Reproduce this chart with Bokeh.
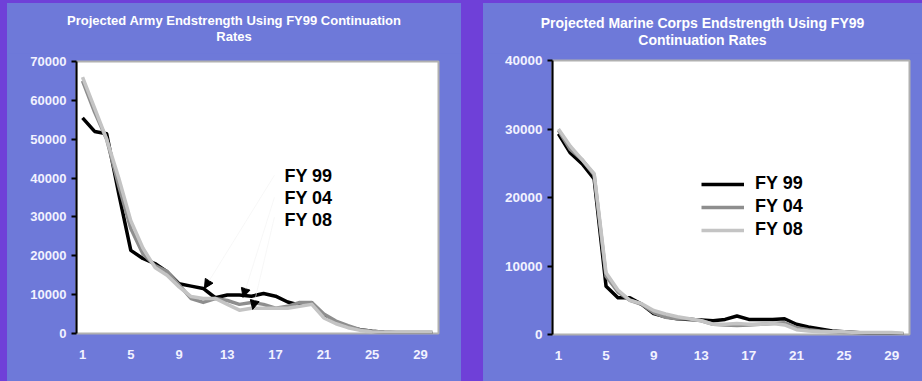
from bokeh.plotting import figure
from bokeh.models import (Range1d, FixedTicker, Label, Legend, LegendItem, Arrow,
                          NormalHead, ColumnDataSource, Div)
from bokeh.layouts import row, column
from bokeh.embed import file_html
from bokeh.resources import INLINE

# ---------------- data ----------------
years = list(range(1, 31))
x_ticks = [1, 5, 9, 13, 17, 21, 25, 29]

army_fy99 = [55500, 52000, 51400, 36000, 21400, 19300, 18000, 15900, 12800, 12200,
             11600, 9200, 9900, 9900, 9600, 10300, 9600, 8100, 7300, 7900,
             4300, 3000, 1700, 1000, 600, 300, 200, 200, 200, 0]
army_fy04 = [65000, 57000, 50000, 38000, 27000, 20500, 17500, 16000, 12500, 9000,
             8000, 9000, 8500, 7500, 8000, 7500, 6500, 7000, 8000, 8000,
             5000, 3200, 2000, 1000, 600, 300, 300, 300, 300, 300]
army_fy08 = [66000, 58000, 50000, 40000, 29000, 22000, 17000, 15000, 12000, 9500,
             9000, 9000, 7500, 6000, 6500, 6500, 6500, 6500, 7000, 7500,
             4000, 2500, 1500, 800, 400, 300, 300, 300, 300, 300]

marine_fy99 = [29300, 26500, 24900, 22700, 7050, 5350, 5350, 4400, 3050, 2600,
               2300, 2200, 2100, 2000, 2200, 2700, 2200, 2200, 2200, 2300,
               1500, 1100, 800, 500, 400, 300, 200, 150, 100, 0]
marine_fy04 = [29800, 27000, 25500, 23300, 8500, 6200, 5000, 4400, 3200, 2500,
               2300, 2300, 2000, 1500, 1400, 1300, 1400, 1500, 1600, 1700,
               1000, 700, 500, 400, 300, 250, 200, 200, 200, 100]
marine_fy08 = [30000, 27500, 25500, 23500, 9000, 6500, 5000, 4500, 3500, 3000,
               2600, 2300, 2000, 1500, 1500, 1600, 1500, 1500, 1600, 1400,
               700, 500, 400, 400, 400, 300, 300, 300, 300, 200]

army_y_ticks = [0, 10000, 20000, 30000, 40000, 50000, 60000, 70000]
marine_y_ticks = [0, 10000, 20000, 30000, 40000]

series_labels = ["FY 99", "FY 04", "FY 08"]
army_title = ["Projected Army Endstrength Using FY99 Continuation", "Rates"]
marine_title = ["Projected Marine Corps Endstrength Using FY99", "Continuation Rates"]

# annotation callouts in the Army panel (label anchor and arrow tips)
callout_x = [17.73, 17.73, 17.73]
callout_y = [40660, 34880, 29200]
arrow_x0 = [16.9, 16.9, 16.9]
arrow_y0 = [40700, 35000, 29900]
arrow_x1 = [11.1, 14.3, 15.1]
arrow_y1 = [11600, 9300, 6200]

# ---------------- style / layout ----------------
PANEL = "#6e79d9"
PURPLE = "#6f40d8"
COLORS = ["#000000", "#8e8e8e", "#c4c4c4"]
FONT = "Liberation Sans"
TOP = 3          # purple strip above the panels
PANEL_H = 378    # panel height
HEAD_H = 50      # title band height
FIG_H = PANEL_H - HEAD_H


def strip(w, h):
    return Div(text="", width=w, height=h, margin=0,
               styles={"background-color": PURPLE})


def header(lines, w, fs, lh, pad):
    html = ('<div style="width:%dpx;height:%dpx;box-sizing:border-box;padding-top:%dpx;'
            'margin:0;background:%s;color:#ffffff;font-family:\'%s\';font-weight:bold;'
            'font-size:%s;line-height:%dpx;text-align:center;white-space:nowrap;">%s</div>'
            % (w, HEAD_H + 2, pad, PANEL, FONT, fs, lh, "<br>".join(lines)))
    return Div(text=html, width=w, height=HEAD_H, margin=0,
               styles={"background-color": PANEL, "overflow": "hidden"})


def make_panel(width, ymax, yticks, mb, tick_fs):
    p = figure(width=width, height=FIG_H, output_backend="svg", toolbar_location=None,
               x_range=Range1d(0.5, 30.5), y_range=Range1d(0, ymax),
               min_border_left=mb[0], min_border_right=mb[1],
               min_border_top=mb[2], min_border_bottom=mb[3],
               styles={"background-color": PANEL})
    p.border_fill_color = PANEL
    p.background_fill_color = "white"
    p.outline_line_color = "#b0b0b0"
    p.outline_line_width = 2
    p.grid.visible = False

    p.xaxis.ticker = FixedTicker(ticks=x_ticks)
    p.xaxis.axis_line_color = None
    p.xaxis.major_tick_line_color = None
    p.xaxis.minor_tick_line_color = None
    p.xaxis.major_label_standoff = 10

    p.yaxis.ticker = FixedTicker(ticks=yticks)
    p.yaxis.axis_line_color = "black"
    p.yaxis.axis_line_width = 2
    p.yaxis.major_tick_line_color = "black"
    p.yaxis.major_tick_line_width = 2
    p.yaxis.major_tick_out = 5
    p.yaxis.major_tick_in = 0
    p.yaxis.minor_tick_line_color = None
    p.yaxis.major_label_standoff = 5

    for ax in (p.xaxis, p.yaxis):
        ax.major_label_text_color = "#f2f2ff"
        ax.major_label_text_font = FONT
        ax.major_label_text_font_style = "bold"
        ax.major_label_text_font_size = tick_fs
    return p


# frames in page px: army 76..438 x 61..333 (panel 7..461) ; marine 552..909 x 60..334 (panel 483..922)
fig_top = TOP + HEAD_H
fig_bot = TOP + PANEL_H

# ---------------- Army panel ----------------
pa = make_panel(454, 70000, army_y_ticks,
                (76 - 7, 461 - 438, 61 - fig_top, fig_bot - 333), "13px")
for ys, c in zip([army_fy99, army_fy04, army_fy08], COLORS):
    pa.line(years, ys, line_color=c, line_width=3.5, line_join="round")

arrow_src = ColumnDataSource(dict(x0=arrow_x0, y0=arrow_y0, x1=arrow_x1, y1=arrow_y1))
pa.add_layout(Arrow(source=arrow_src, x_start="x0", y_start="y0", x_end="x1", y_end="y1",
                    line_color="#f2f2f2", line_width=0.6,
                    end=NormalHead(size=9, fill_color="black", line_color="black")))
for lx, ly, t in zip(callout_x, callout_y, series_labels):
    pa.add_layout(Label(x=lx, y=ly, text=t, text_align="left", text_baseline="middle",
                        text_color="black", text_font=FONT, text_font_style="bold",
                        text_font_size="18px"))

# ---------------- Marine panel ----------------
pm = make_panel(439, 40000, marine_y_ticks,
                (552 - 483, 922 - 909, 60 - fig_top, fig_bot - 334), "13.5px")
renderers = []
for ys, c in zip([marine_fy99, marine_fy04, marine_fy08], COLORS):
    renderers.append(pm.line(years, ys, line_color=c, line_width=3.5, line_join="round"))

legend = Legend(items=[LegendItem(label=t, renderers=[r]) for t, r in zip(series_labels, renderers)],
                location=(149, 94), padding=0, margin=0, spacing=2,
                glyph_width=43, glyph_height=20, label_height=20, label_standoff=11,
                label_text_font=FONT, label_text_font_style="bold", label_text_font_size="18px",
                label_text_color="black", border_line_color=None, background_fill_alpha=0)
pm.add_layout(legend)

left_col = column(header(army_title, 454, "13px", 16, 10), pa, spacing=0,
                  styles={"background-color": PANEL})
right_col = column(header(marine_title, 439, "14px", 17, 12), pm, spacing=0,
                   styles={"background-color": PANEL})

layout = column(strip(922, TOP),
                row(strip(7, PANEL_H), left_col, strip(22, PANEL_H), right_col, spacing=0,
                    styles={"background-color": PURPLE}),
                spacing=0, styles={"background-color": PURPLE})

open("out.html", "w").write(file_html(layout, INLINE))
